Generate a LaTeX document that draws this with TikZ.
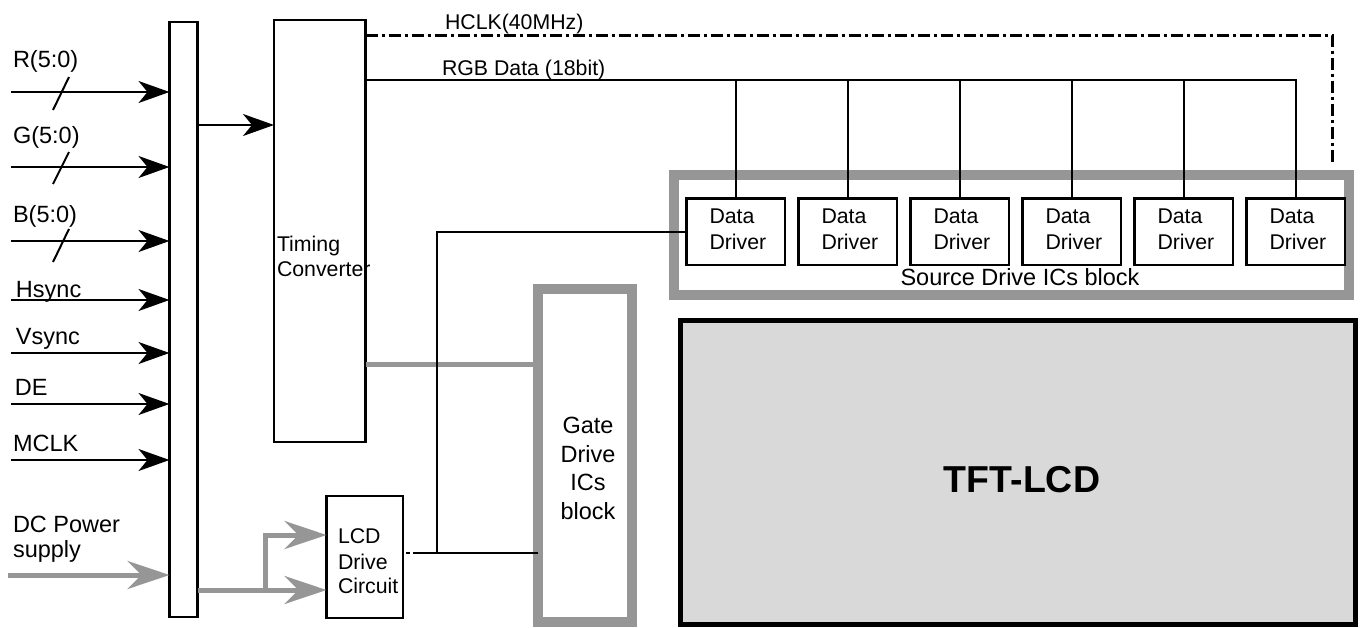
\documentclass[tikz,border=0pt]{standalone}
\usepackage{fontspec}
\setmainfont{Liberation Sans}
\usetikzlibrary{arrows.meta}
\definecolor{gline}{RGB}{150,150,150}
\definecolor{tftfill}{RGB}{217,217,217}
\begin{document}
\begin{tikzpicture}[x=1pt,y=-1pt,
  box/.style={draw, line width=2.5pt, inner sep=0pt, outer sep=0pt},
  gbox/.style={draw=gline, line width=10pt, inner sep=0pt, outer sep=0pt},
  wire/.style={line width=2pt},
  sig/.style={line width=2pt, -{Stealth[length=31pt,width=22pt,inset=9pt]}},
  gsig/.style={draw=gline, line width=5pt, -{Stealth[length=42pt,width=28pt,inset=14pt]}, color=gline},
  gwire/.style={draw=gline, line width=5pt},
  dashdotline/.style={line width=3pt, dash pattern=on 12pt off 4pt on 3pt off 4pt},
  txt/.style={inner sep=0pt, outer sep=0pt, anchor=base west, font=\fontsize{21.3}{25.5}\selectfont},
  btxt/.style={inner sep=0pt, outer sep=0pt, anchor=base west, font=\fontsize{23.5}{28}\selectfont},
  ctxt/.style={inner sep=0pt, outer sep=0pt, anchor=base, font=\fontsize{23.5}{28}\selectfont}
]
\useasboundingbox (0,0) rectangle (1361,627);

% blocks
\node[gbox, minimum width=675pt, minimum height=120pt] (src) at (1011.5,235) {};
\node[gbox, minimum width=94pt, minimum height=333pt] (gate) at (585,455.5) {};
\node[draw, line width=5pt, fill=tftfill, inner sep=0pt, minimum width=675.5pt, minimum height=304pt] (tft) at (1017.75,472.5) {};
\node[inner sep=0pt, font=\fontsize{37.5}{40}\selectfont\bfseries] (tftt) at (1022,480) {TFT-LCD};

\node[box, minimum width=28pt, minimum height=595pt] (bar) at (183.5,319.5) {};
\node[box, minimum width=91.5pt, minimum height=422pt] (tc) at (319.75,231) {};
\node[box, minimum width=76.5pt, minimum height=122pt] (lcd) at (364.75,557) {};

\foreach \i [evaluate=\i as \cx using 735.5+112*\i] in {0,...,5}{
  \node[box, minimum width=98.5pt, minimum height=66.5pt] (dd\i) at (\cx,231.5) {};
  \node[txt] (ddta\i) at (\cx-26,223) {Data};
  \node[txt] (ddtb\i) at (\cx-26,249) {Driver};
}

% texts
\node[txt] (tct1) at (277,251) {Timing};
\node[txt] (tct2) at (277,276) {Converter};
\node[txt] (lct1) at (338,543) {LCD};
\node[txt] (lct2) at (338,569) {Drive};
\node[txt] (lct3) at (338,593) {Circuit};
\node[ctxt] (gt1) at (588,433) {Gate};
\node[ctxt] (gt2) at (588,462) {Drive};
\node[ctxt] (gt3) at (588,490) {ICs};
\node[ctxt] (gt4) at (588,519) {block};
\node[ctxt] (srct) at (1020,285) {Source Drive ICs block};
\node[txt] (hclkt) at (445,29) {HCLK(40MHz)};
\node[txt] (rgbt) at (442,75) {RGB Data (18bit)};

\node[btxt] (lR) at (13,67) {R(5:0)};
\node[btxt] (lG) at (13,143) {G(5:0)};
\node[btxt] (lB) at (13,222) {B(5:0)};
\node[btxt] (lH) at (16,297) {Hsync};
\node[btxt] (lV) at (16,344) {Vsync};
\node[btxt] (lD) at (15,395) {DE};
\node[btxt] (lM) at (13,451) {MCLK};
\node[btxt] (lP1) at (13,532) {DC Power};
\node[btxt] (lP2) at (13,557) {supply};

% coordinates
\coordinate (inR) at (11,92);
\coordinate (inG) at (11,167);
\coordinate (inB) at (11,241);
\coordinate (inH) at (11,300);
\coordinate (inV) at (11,353);
\coordinate (inD) at (11,404);
\coordinate (inM) at (11,460);
\coordinate (inP) at (8,575);
\coordinate (b2t) at (197.5,125);
\coordinate (hclkL) at (365.5,35);
\coordinate (hclkE) at (1332,163);
\coordinate (rgbL) at (365.5,80);
\coordinate (tcg) at (365.5,364);
\coordinate (lcdo) at (404,553);
\coordinate (lcdj) at (417,553);
\coordinate (jn) at (437,553);
\coordinate (pw) at (197.5,590);
\coordinate (pbr) at (265,590);
\coordinate (pup) at (265,535);

% inputs
\foreach \c in {inR,inG,inB,inH,inV,inD,inM}
  \draw[sig] (\c) -- (\c -| bar.west);
\draw[gsig] (inP) -- (inP -| bar.west);
% bus slashes
\draw[wire] (53,110) -- (69,77);
\draw[wire] (53,184) -- (69,152);
\draw[wire] (53,262) -- (69,229);

% bar to timing converter
\draw[sig] (b2t) -- (b2t -| tc.west);

% clock and data
\draw[dashdotline] (hclkL) -| (hclkE);
\draw[wire] (rgbL) -| (dd5.north);
\foreach \i in {0,...,4}
  \draw[wire] (dd\i.north |- rgbL) -- (dd\i.north);

% timing converter to gate
\draw[gwire] (tcg) -- (tcg -| gate.west);

% power
\draw[gsig] (pw) -- (pw -| lcd.west);
\draw[gsig] (pbr) -- (pup) -- (pup -| lcd.west);

% lcd drive outputs
\draw[wire, dash pattern=on 4pt off 3pt, dash phase=-2pt] (lcdo) -- (lcdj);
\draw[wire] (lcdj) -- (lcdj -| gate.west);
\draw[wire] (jn) |- (dd0.west);
\end{tikzpicture}
\end{document}
